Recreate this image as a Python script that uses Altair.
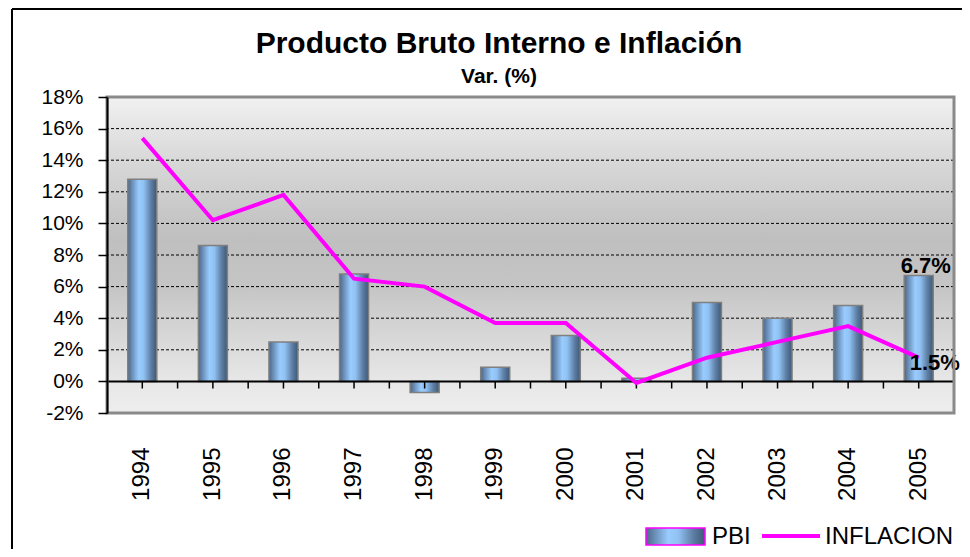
import altair as alt
import pandas as pd

# ---- data ----
years = ["1994", "1995", "1996", "1997", "1998", "1999", "2000", "2001", "2002", "2003", "2004", "2005"]
pbi = [12.8, 8.6, 2.5, 6.8, -0.7, 0.9, 2.9, 0.2, 5.0, 4.0, 4.8, 6.7]
inflacion = [15.4, 10.2, 11.8, 6.5, 6.0, 3.7, 3.7, -0.1, 1.5, 2.5, 3.5, 1.5]
y_ticks = [-2, 0, 2, 4, 6, 8, 10, 12, 14, 16, 18]
grid_values = [2, 4, 6, 8, 10, 12, 14, 16]
labelled_year = "2005"
title_text = "Producto Bruto Interno e Inflación"
subtitle_text = "Var. (%)"
legend_labels = ["PBI", "INFLACION"]

# ---- layout / style ----
W, H = 847, 316
BAND = W / len(years)
FONT = "Liberation Sans"
MAGENTA = "#ff00ff"


def lin(stops, horizontal):
    return alt.LinearGradient(
        gradient="linear",
        stops=[alt.GradientStop(offset=o, color=c) for o, c in stops],
        x1=0, y1=0, x2=1 if horizontal else 0, y2=0 if horizontal else 1,
    )


bar_grad = lin([(0, "#4b6787"), (0.15, "#6b8fb8"), (0.38, "#99ccff"), (0.55, "#90c1f2"),
                (0.8, "#5d7ea4"), (1, "#3e5877")], True)
bg_grad = lin([(0, "#f1f1f1"), (0.2, "#d8d8d8"), (0.45, "#bfbfbf"), (0.6, "#c5c5c5"),
               (0.8, "#dcdcdc"), (0.9, "#e7e7e7"), (1, "#eeeeee")], False)

df = pd.DataFrame({"year": years, "pbi": pbi, "inflacion": inflacion})
one = alt.Data(values=[{}])

xaxis = alt.Axis(title=None, domain=False, ticks=False, labelAngle=270, labelFontSize=24,
                 labelColor="black", labelFont=FONT, labelPadding=34)
xenc = alt.X("year:O", sort=years,
             scale=alt.Scale(type="band", paddingInner=0, paddingOuter=0), axis=xaxis)
yscale = alt.Scale(domain=[-2, 18], nice=False, zero=False)
yaxis = alt.Axis(title=None, values=y_ticks, labelExpr="datum.value + '%'", labelFontSize=21,
                 labelFont=FONT, labelColor="black", tickColor="black", tickSize=9, tickWidth=1.5,
                 domainColor="black", domainWidth=2, labelPadding=15, grid=False, zindex=1)

background = alt.Chart(one).mark_rect(fill=bg_grad).encode(
    x=alt.value(0), x2=alt.value(W), y=alt.value(0), y2=alt.value(H))

grid = alt.Chart(pd.DataFrame({"v": grid_values})).mark_rule(
    color="black", strokeWidth=1, strokeDash=[3, 2]).encode(
    y=alt.Y("v:Q", scale=yscale, axis=yaxis))

bars = alt.Chart(df).mark_bar(fill=bar_grad, stroke="#7f7f7f", strokeWidth=1.5, width=29).encode(
    x=xenc, y=alt.Y("pbi:Q", scale=yscale, axis=yaxis))

zero = alt.Chart(pd.DataFrame({"v": [0]})).mark_rule(color="black", strokeWidth=2).encode(
    y=alt.Y("v:Q", scale=yscale, axis=yaxis))

ticks_c = alt.Chart(df).transform_calculate(z="0", t="-0.45").mark_rule(
    color="black", strokeWidth=1.5).encode(
    x=xenc, y=alt.Y("z:Q", scale=yscale, axis=yaxis), y2="t:Q")
ticks_b = alt.Chart(df).transform_calculate(z="0", t="-0.45").mark_rule(
    color="black", strokeWidth=1.5, xOffset=BAND / 2).encode(
    x=xenc, y=alt.Y("z:Q", scale=yscale, axis=yaxis), y2="t:Q")

line = alt.Chart(df).mark_line(color=MAGENTA, strokeWidth=4).encode(
    x=xenc, y=alt.Y("inflacion:Q", scale=yscale, axis=yaxis))

lab_pbi = alt.Chart(df).transform_filter(alt.datum.year == labelled_year).transform_calculate(
    lab="format(datum.pbi, '.1f') + '%'").mark_text(
    font=FONT, fontSize=22, fontWeight="bold", align="center", baseline="alphabetic",
    dx=7, dy=-3, color="black").encode(
    x=xenc, y=alt.Y("pbi:Q", scale=yscale, axis=yaxis), text="lab:N")

lab_inf = alt.Chart(df).transform_filter(alt.datum.year == labelled_year).transform_calculate(
    lab="format(datum.inflacion, '.1f') + '%'").mark_text(
    font=FONT, fontSize=22, fontWeight="bold", align="left", baseline="alphabetic",
    dx=-9, dy=12, color="black").encode(
    x=xenc, y=alt.Y("inflacion:Q", scale=yscale, axis=yaxis), text="lab:N")

frame = alt.Chart(one).mark_rect(fill="transparent", stroke="#8a8a8a", strokeWidth=3).encode(
    x=alt.value(0), x2=alt.value(W), y=alt.value(0), y2=alt.value(H))

title = alt.Chart(one).mark_text(font=FONT, fontSize=30, fontWeight="bold", align="center",
                                 baseline="alphabetic", color="black").encode(
    x=alt.value(392), y=alt.value(-44), text=alt.value(title_text))
subtitle = alt.Chart(one).mark_text(font=FONT, fontSize=21, fontWeight="bold", align="center",
                                    baseline="alphabetic", color="black").encode(
    x=alt.value(392), y=alt.value(-14), text=alt.value(subtitle_text))

leg_rect = alt.Chart(one).mark_rect(fill=bar_grad, stroke=MAGENTA, strokeWidth=1.5).encode(
    x=alt.value(539), x2=alt.value(598), y=alt.value(431), y2=alt.value(448))
leg_line = alt.Chart(one).mark_rule(color=MAGENTA, strokeWidth=4).encode(
    x=alt.value(655), x2=alt.value(713), y=alt.value(439))
leg_t1 = alt.Chart(one).mark_text(font=FONT, fontSize=24, align="left", baseline="alphabetic",
                                  color="black").encode(
    x=alt.value(605), y=alt.value(447), text=alt.value(legend_labels[0]))
leg_t2 = alt.Chart(one).mark_text(font=FONT, fontSize=24, align="left", baseline="alphabetic",
                                  color="black").encode(
    x=alt.value(718), y=alt.value(447), text=alt.value(legend_labels[1]))

border_top = alt.Chart(one).mark_rule(color="black", strokeWidth=2).encode(
    x=alt.value(-95), x2=alt.value(870), y=alt.value(-88))
border_left = alt.Chart(one).mark_rule(color="black", strokeWidth=2).encode(
    x=alt.value(-95), y=alt.value(-88), y2=alt.value(470))

chart = alt.layer(
    background, grid, bars, zero, ticks_c, ticks_b, line, lab_pbi, lab_inf, frame,
    title, subtitle, leg_rect, leg_line, leg_t1, leg_t2, border_top, border_left,
).properties(
    width=W, height=H,
    autosize=alt.AutoSizeParams(type="none"),
    padding={"left": 99, "top": 89, "right": 8, "bottom": 136},
    background="white",
).configure_view(strokeWidth=0)

chart.save("out.html", embed_options={"renderer": "svg", "actions": False})
